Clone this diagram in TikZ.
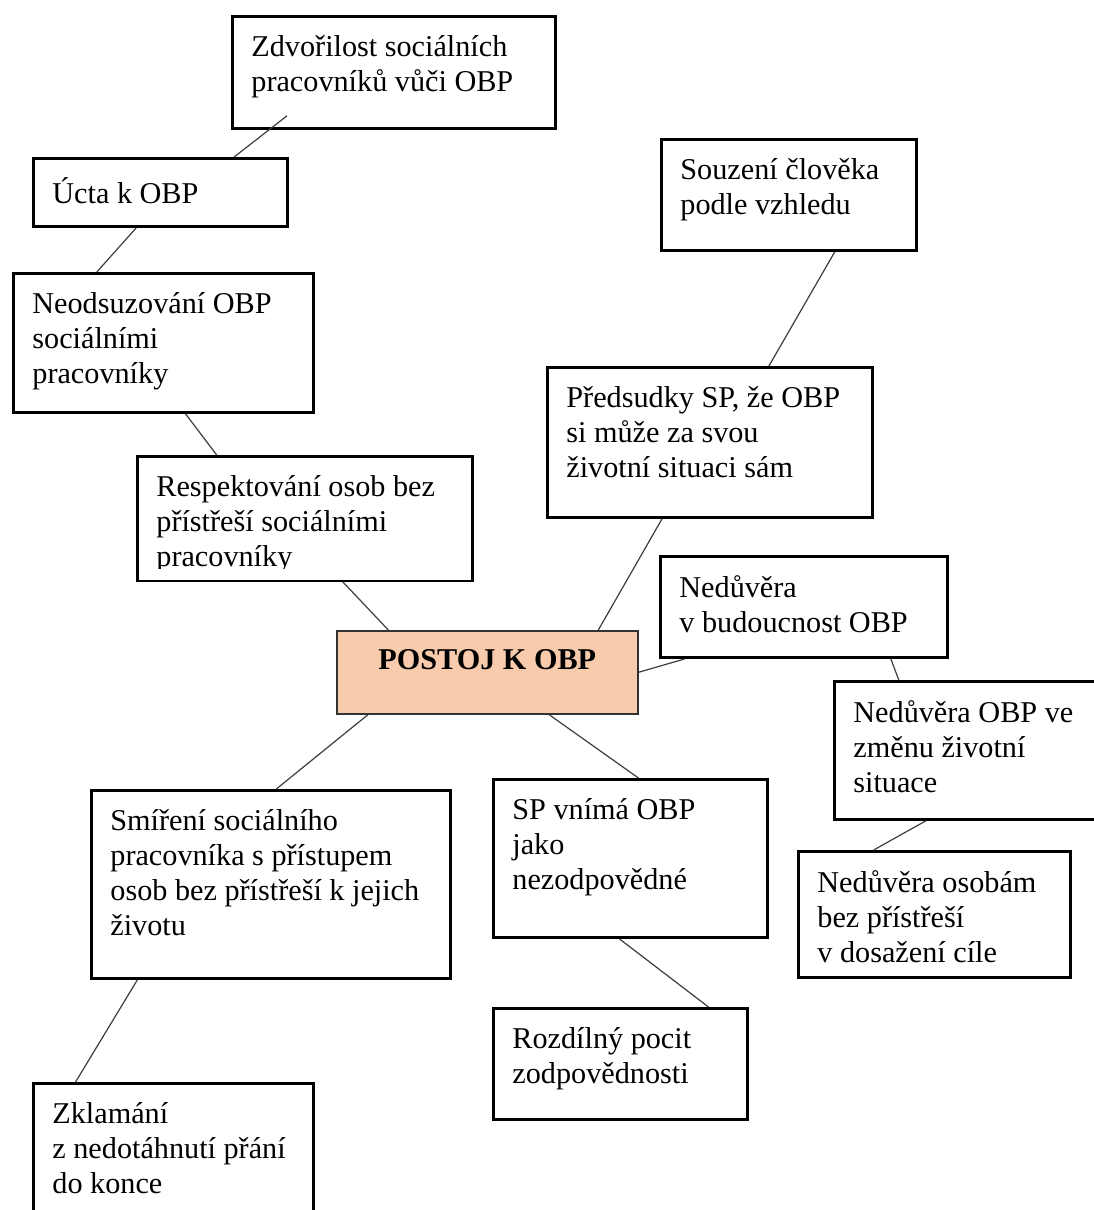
\documentclass[tikz,border=0pt]{standalone}
\usepackage{fontspec}
\setmainfont{Liberation Serif}
\usetikzlibrary{calc}
\newlength\pxu
\setlength\pxu{0.02cm}
\newcommand\obpfont{\fontsize{17.2}{19.9}\selectfont}
\def\boxtext[#1:#2]#3{\parbox[t][\dimexpr#2\pxu-38\pxu\relax][t]{\dimexpr#1\pxu-38\pxu\relax}{\raggedright #3}}
\definecolor{postojfill}{HTML}{F8CBAD}

\begin{document}
\begin{tikzpicture}[x=0.02cm, y=-0.02cm,
	obpbox/.style={draw, line width=1.6pt, anchor=north west, inner sep=0.38cm, font=\obpfont},
	link/.style={line width=0.7pt, color=black!75}]
			%%%%% START %%%%%
			
			\useasboundingbox (0, 0) rectangle (1094, 1210);
			
			\node[obpbox] (zdv) at (231, 15) {\boxtext[323:112]{Zdvořilost sociálních\\pracovníků vůči OBP}};
			\node[obpbox] (ucta) at (32, 157) {\boxtext[254:68]{Úcta k OBP}};
			\node[obpbox] (neods) at (12, 272) {\boxtext[300:139]{Neodsuzování OBP\\sociálními\\pracovníky}};
			\node[obpbox] (resp) at (136, 455) {\boxtext[335:124]{Respektování osob bez\\přístřeší sociálními\\pracovníky}};
			\fill[white] ($(resp.south west)+(3, -2)$) rectangle ($(resp.south east)+(-3, -13)$);
			
			\node[obpbox, line width=0.9pt, draw=black!80, fill=postojfill] (postoj) at (336, 630) {\parbox[t][45\pxu][t]{263\pxu}{\centering\bfseries POSTOJ K OBP}};
			
			\node[obpbox] (souz) at (660, 138) {\boxtext[255:111]{Souzení člověka\\podle vzhledu}};
			\node[obpbox] (preds) at (546, 366) {\boxtext[325:150]{Předsudky SP, že OBP\\si může za svou\\životní situaci sám}};
			\node[obpbox] (nbud) at (659, 555) {\boxtext[287:101]{Nedůvěra\\v budoucnost OBP}};
			\node[obpbox] (nobp) at (833, 680) {\boxtext[292:138]{Nedůvěra OBP ve\\změnu životní\\situace}};
			\node[obpbox] (nosob) at (797, 850) {\boxtext[272:126]{Nedůvěra osobám\\bez přístřeší\\v dosažení cíle}};
			
			\node[obpbox] (sp) at (492, 778) {\boxtext[274:158]{SP vnímá OBP\\jako\\nezodpovědné}};
			\node[obpbox] (rozd) at (492, 1007) {\boxtext[254:111]{Rozdílný pocit\\zodpovědnosti}};
			\node[obpbox] (smir) at (90, 789) {\boxtext[359:188]{Smíření sociálního\\pracovníka s přístupem\\osob bez přístřeší k jejich\\životu}};
			\node[obpbox] (zklam) at (32, 1082) {\boxtext[280:150]{Zklamání\\z nedotáhnutí přání\\do konce}};
			
			% left branch
			\draw[link] ($(zdv.south west)+(56, -14)$) -- ($(ucta.north west)!0.787!(ucta.north east)$);
			\draw[link] ($(ucta.south west)!0.406!(ucta.south east)$) -- ($(neods.north west)!0.28!(neods.north east)$);
			\draw[link] ($(neods.south west)!0.573!(neods.south east)$) -- ($(resp.north west)!0.239!(resp.north east)$);
			\draw[link] ($(resp.south west)!0.612!(resp.south east)$) -- ($(postoj.north west)!0.173!(postoj.north east)$);
			
			% right branch
			\draw[link] ($(postoj.north west)!0.867!(postoj.north east)$) -- ($(preds.south west)!0.354!(preds.south east)$);
			\draw[link] ($(preds.north west)!0.68!(preds.north east)$) -- ($(souz.south west)!0.678!(souz.south east)$);
			\draw[link] (postoj.east) -- ($(nbud.south west)!0.09!(nbud.south east)$);
			\draw[link] ($(nbud.south west)!0.8!(nbud.south east)$) -- ($(nobp.north west)!0.223!(nobp.north east)$);
			\draw[link] ($(nobp.south west)!0.315!(nobp.south east)$) -- ($(nosob.north west)!0.279!(nosob.north east)$);
			
			% lower branch
			\draw[link] ($(postoj.south west)!0.106!(postoj.south east)$) -- ($(smir.north west)!0.515!(smir.north east)$);
			\draw[link] ($(smir.south west)!0.131!(smir.south east)$) -- ($(zklam.north west)!0.154!(zklam.north east)$);
			\draw[link] ($(postoj.south west)!0.704!(postoj.south east)$) -- ($(sp.north west)!0.529!(sp.north east)$);
			\draw[link] ($(sp.south west)!0.46!(sp.south east)$) -- ($(rozd.north west)!0.843!(rozd.north east)$);
			
			%%%%% END %%%%%
\end{tikzpicture}
\end{document}
